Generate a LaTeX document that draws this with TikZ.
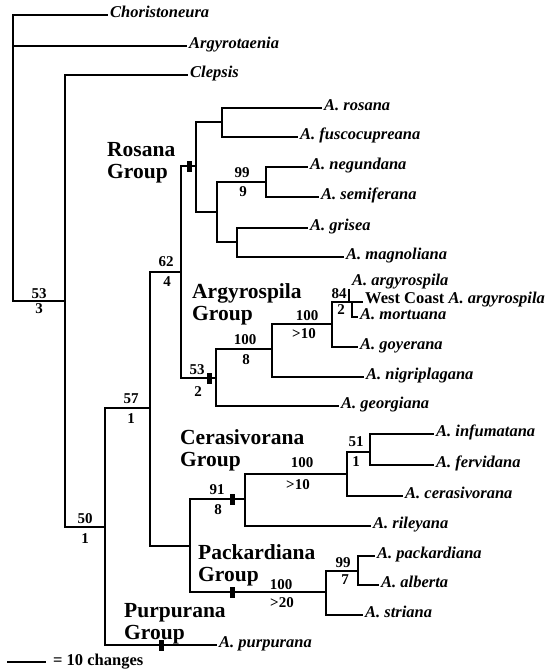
\documentclass[tikz,border=0pt]{standalone}
\usepackage{fontspec}
\setmainfont{Liberation Serif}
\usepackage{tikz}
\usetikzlibrary{positioning}

\begin{document}
\begin{tikzpicture}[
  x=1pt,y=-1pt,
  branch/.style={line width=1.1pt,line cap=rect},
  taxon/.style={anchor=west,inner xsep=3pt,inner ysep=0pt,text height=0.68em,text depth=0.18em,font=\fontsize{16.5}{18}\selectfont\bfseries\itshape},
  grp/.style={anchor=west,align=left,inner sep=0pt,font=\fontsize{21.5}{22}\selectfont\bfseries},
  bs/.style={inner sep=0pt,font=\fontsize{15}{16}\selectfont\bfseries},
  tick/.style={rectangle,fill=black,draw=none,inner sep=0pt,outer sep=0pt,minimum width=5pt,minimum height=11pt}
]
\useasboundingbox[fill=white] (0,0) rectangle (548,672);

\coordinate (root) at (13,15);
\coordinate (n53) at (65,301);
\coordinate (n50) at (105,527);
\coordinate (n57) at (150,408);
\coordinate (n62) at (181,272);
\coordinate (nRos) at (196,166);
\coordinate (nRos1) at (222,122);
\coordinate (nRos2) at (217,212);
\coordinate (n99) at (266,182);
\coordinate (nGri) at (237,242);
\coordinate (nArg) at (216,378);
\coordinate (n100a) at (272,349);
\coordinate (n100b) at (332,324);
\coordinate (n84) at (349,302);
\coordinate (nMort) at (352,302);
\coordinate (argytip) at (349,290);
\coordinate (nCP) at (190,546);
\coordinate (n91) at (245,499);
\coordinate (n100c) at (347,474);
\coordinate (n51) at (370,452);
\coordinate (n100p) at (326,592);
\coordinate (n99p) at (358,571);

\node[taxon] (chor) at (107,15) {Choristoneura};
\node[taxon] (argyrot) at (186,46) {Argyrotaenia};
\node[taxon] (clep) at (187,75) {Clepsis};
\node[taxon] (rosana) at (321,108) {A. rosana};
\node[taxon] (fusco) at (297,137) {A. fuscocupreana};
\node[taxon] (negund) at (307,167) {A. negundana};
\node[taxon] (semif) at (318,197) {A. semiferana};
\node[taxon] (grisea) at (307,228) {A. grisea};
\node[taxon] (magnol) at (343,257) {A. magnoliana};
\node[taxon] (argy) at (349,283) {A. argyrospila};
\node[taxon] (wcoast) at (362,301) {{\upshape West Coast} A. argyrospila};
\node[taxon] (mort) at (357,317) {A. mortuana};
\node[taxon] (goyer) at (357,347) {A. goyerana};
\node[taxon] (nigri) at (363,377) {A. nigriplagana};
\node[taxon] (georg) at (338,406) {A. georgiana};
\node[taxon] (infum) at (433,434) {A. infumatana};
\node[taxon] (fervid) at (433,465) {A. fervidana};
\node[taxon] (ceras) at (402,496) {A. cerasivorana};
\node[taxon] (riley) at (370,526) {A. rileyana};
\node[taxon] (packard) at (374,556) {A. packardiana};
\node[taxon] (albert) at (378,585) {A. alberta};
\node[taxon] (striana) at (362,615) {A. striana};
\node[taxon] (purp) at (216,645) {A. purpurana};

\draw[branch] (root) |- (chor.west);
\draw[branch] (root) |- (argyrot.west);
\draw[branch] (root) |- (n53);
\draw[branch] (n53) |- (clep.west);
\draw[branch] (n53) |- (n50);
\draw[branch] (n50) |- (n57);
\draw[branch] (n50) |- (purp.west);
\draw[branch] (n57) |- (n62);
\draw[branch] (n57) |- (nCP);
\draw[branch] (n62) |- (nRos);
\draw[branch] (n62) |- (nArg);
\draw[branch] (nRos) |- (nRos1);
\draw[branch] (nRos) |- (nRos2);
\draw[branch] (nRos1) |- (rosana.west);
\draw[branch] (nRos1) |- (fusco.west);
\draw[branch] (nRos2) |- (n99);
\draw[branch] (nRos2) |- (nGri);
\draw[branch] (n99) |- (negund.west);
\draw[branch] (n99) |- (semif.west);
\draw[branch] (nGri) |- (grisea.west);
\draw[branch] (nGri) |- (magnol.west);
\draw[branch] (nArg) |- (n100a);
\draw[branch] (nArg) |- (georg.west);
\draw[branch] (n100a) |- (n100b);
\draw[branch] (n100a) |- (nigri.west);
\draw[branch] (n100b) |- (n84);
\draw[branch] (n100b) |- (goyer.west);
\draw[branch] (n84) -- (argytip);
\draw[branch] (n84) -- (n84 -| wcoast.west);
\draw[branch] (nMort) |- (mort.west);
\draw[branch] (nCP) |- (n91);
\draw[branch] (nCP) |- (n100p);
\draw[branch] (n91) |- (n100c);
\draw[branch] (n91) |- (riley.west);
\draw[branch] (n100c) |- (n51);
\draw[branch] (n100c) |- (ceras.west);
\draw[branch] (n51) |- (infum.west);
\draw[branch] (n51) |- (fervid.west);
\draw[branch] (n100p) |- (n99p);
\draw[branch] (n100p) |- (striana.west);
\draw[branch] (n99p) |- (packard.west);
\draw[branch] (n99p) |- (albert.west);

\node[tick] (tRos) at (189,166) {};
\node[tick] (tArg) at (209,378) {};
\node[tick] (tCer) at (232,499) {};
\node[tick] (tPack) at (232,592) {};
\node[tick] (tPurp) at (161,645) {};

\node[bs] (b53) at (39,294) {53};
\node[bs] (d53) at (39,309) {3};
\node[bs] (b50) at (85,519) {50};
\node[bs] (d50) at (85,539) {1};
\node[bs] (b57) at (131,399) {57};
\node[bs] (d57) at (131,419) {1};
\node[bs] (b62) at (166,262) {62};
\node[bs] (d62) at (167,282) {4};
\node[bs] (bA53) at (197,370) {53};
\node[bs] (dA53) at (198,392) {2};
\node[bs] (b99) at (242,173) {99};
\node[bs] (d99) at (243,192) {9};
\node[bs] (b100a) at (245,340) {100};
\node[bs] (d100a) at (246,360) {8};
\node[bs] (b100b) at (307,316) {100};
\node[bs] (d100b) at (304,334) {>10};
\node[bs] (b84) at (339,294) {84};
\node[bs] (d84) at (341,310) {2};
\node[bs] (b91) at (217,490) {91};
\node[bs] (d91) at (218,510) {8};
\node[bs] (b100c) at (302,463) {100};
\node[bs] (d100c) at (298,485) {>10};
\node[bs] (b51) at (356,442) {51};
\node[bs] (d51) at (356,462) {1};
\node[bs] (b100p) at (281,585) {100};
\node[bs] (d100p) at (282,603) {>20};
\node[bs] (b99p) at (343,563) {99};
\node[bs] (d99p) at (345,580) {7};

\node[grp] (gRos) at (107,163) {Rosana\\Group};
\node[grp] (gArg) at (192,304) {Argyrospila\\Group};
\node[grp] (gCer) at (180,450) {Cerasivorana\\Group};
\node[grp] (gPack) at (198,565) {Packardiana\\Group};
\node[grp] (gPurp) at (124,624) {Purpurana\\Group};

\coordinate (sbl) at (8,662);
\coordinate (sbr) at (45,662);
\draw[branch] (sbl) -- (sbr);
\node[bs,anchor=west,font=\fontsize{16.5}{18}\selectfont\bfseries] (sbtext) at (53,662) {= 10 changes};
\end{tikzpicture}
\end{document}
